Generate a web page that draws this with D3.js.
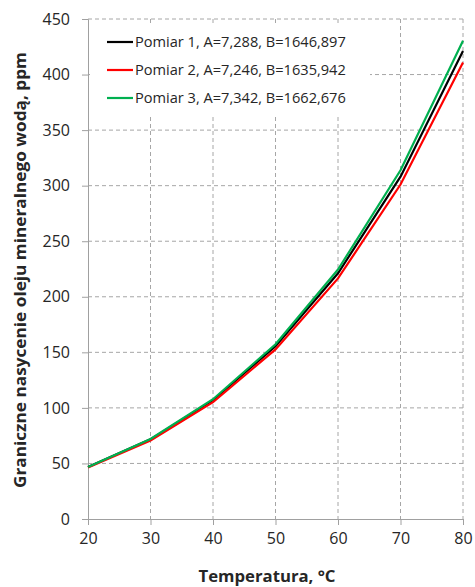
<!DOCTYPE html>
<html>
<head>
<meta charset="utf-8">
<script src="https://cdn.jsdelivr.net/npm/d3@7"></script>
<style>
  body { margin: 0; background: #fff; }
  text { font-family: "Open Sans", Lato, sans-serif; fill: #262626; }
</style>
</head>
<body>
<div class="chart"></div>
<script>
// data
const temps = [20, 30, 40, 50, 60, 70, 80];
const pomiar1 = [46.8, 71.7, 106.9, 155.5, 221.1, 308.1, 421.3];
const pomiar2 = [46.3, 70.7, 105.2, 152.6, 216.5, 301.0, 410.8];
const pomiar3 = [46.8, 72.0, 107.8, 157.3, 224.5, 313.8, 430.4];
const seriesNames = [
  "Pomiar 1, A=7,288, B=1646,897",
  "Pomiar 2, A=7,246, B=1635,942",
  "Pomiar 3, A=7,342, B=1662,676"
];
const seriesColors = ["#000000", "#ff0000", "#00b050"];
const xTicks = [20, 30, 40, 50, 60, 70, 80];
const yTicks = [0, 50, 100, 150, 200, 250, 300, 350, 400, 450];

const series = [pomiar1, pomiar2, pomiar3].map((vals, i) => ({
  name: seriesNames[i],
  color: seriesColors[i],
  values: temps.map((t, j) => ({t: t, v: vals[j]}))
}));

/* margins and dimensions */
const margin = {top: 19, right: 12, bottom: 68, left: 88};
const W = 475, H = 587;
const width = W - margin.left - margin.right;
const height = H - margin.top - margin.bottom;

const svg = d3.select(".chart").append("svg")
  .attr("width", W)
  .attr("height", H);

const g = svg.append("g")
  .attr("transform", `translate(${margin.left},${margin.top})`);

/* scales */
const xScale = d3.scaleLinear().domain([20, 80]).range([0, width]);
const yScale = d3.scaleLinear().domain([0, 450]).range([height, 0]);

/* grid lines */
g.append("g")
  .selectAll("line")
  .data(yTicks.filter(d => d > 0))
  .join("line")
    .attr("x1", 0).attr("x2", width)
    .attr("y1", d => yScale(d)).attr("y2", d => yScale(d))
    .attr("stroke", "#a6a6a6")
    .attr("stroke-dasharray", "4,3");

g.append("g")
  .selectAll("line")
  .data(xTicks.filter(d => d > 20))
  .join("line")
    .attr("x1", d => xScale(d)).attr("x2", d => xScale(d))
    .attr("y1", 0).attr("y2", height)
    .attr("stroke", "#a6a6a6")
    .attr("stroke-dasharray", "4,3");

/* axes */
const xAxis = d3.axisBottom(xScale).tickValues(xTicks).tickSize(6).tickPadding(8);
const yAxis = d3.axisLeft(yScale).tickValues(yTicks).tickSize(6).tickPadding(12);

const xG = g.append("g")
  .attr("transform", `translate(0,${height})`)
  .call(xAxis);
const yG = g.append("g").call(yAxis);

[xG, yG].forEach(a => {
  a.selectAll("path, line").attr("stroke", "#a0a0a0");
  a.selectAll("text").style("font-size", "16px").attr("fill", "#262626");
});

/* legend background (hides grid lines behind it) */
const legend = g.append("g");
legend.append("rect")
  .attr("x", 2).attr("y", 7)
  .attr("width", 280).attr("height", 90)
  .attr("fill", "#fff");

/* lines */
const line = d3.line()
  .x(d => xScale(d.t))
  .y(d => yScale(d.v));

g.append("g")
  .selectAll("path")
  .data(series)
  .join("path")
    .attr("d", d => line(d.values))
    .attr("fill", "none")
    .attr("stroke", d => d.color)
    .attr("stroke-width", 2.2);

/* legend entries */
const items = legend.selectAll("g.item")
  .data(series)
  .join("g")
    .attr("class", "item")
    .attr("transform", (d, i) => `translate(19,${23 + i * 28})`);

items.append("line")
  .attr("x1", 0).attr("x2", 26)
  .attr("stroke", d => d.color)
  .attr("stroke-width", 2.2);

items.append("text")
  .attr("x", 28)
  .attr("dy", "0.35em")
  .style("font-size", "14.6px")
  .text(d => d.name);

/* axis titles */
svg.append("text")
  .attr("x", 267)
  .attr("y", 582)
  .attr("text-anchor", "middle")
  .attr("textLength", 137)
  .attr("lengthAdjust", "spacingAndGlyphs")
  .style("font-size", "15.5px")
  .style("font-weight", "bold")
  .attr("fill", "#000")
  .text("Temperatura, °C");

svg.append("text")
  .attr("transform", "translate(26,270) rotate(-90)")
  .attr("text-anchor", "middle")
  .attr("textLength", 436)
  .attr("lengthAdjust", "spacingAndGlyphs")
  .style("font-size", "15.5px")
  .style("font-weight", "bold")
  .attr("fill", "#000")
  .text("Graniczne nasycenie oleju mineralnego wodą, ppm");
</script>
</body>
</html>
